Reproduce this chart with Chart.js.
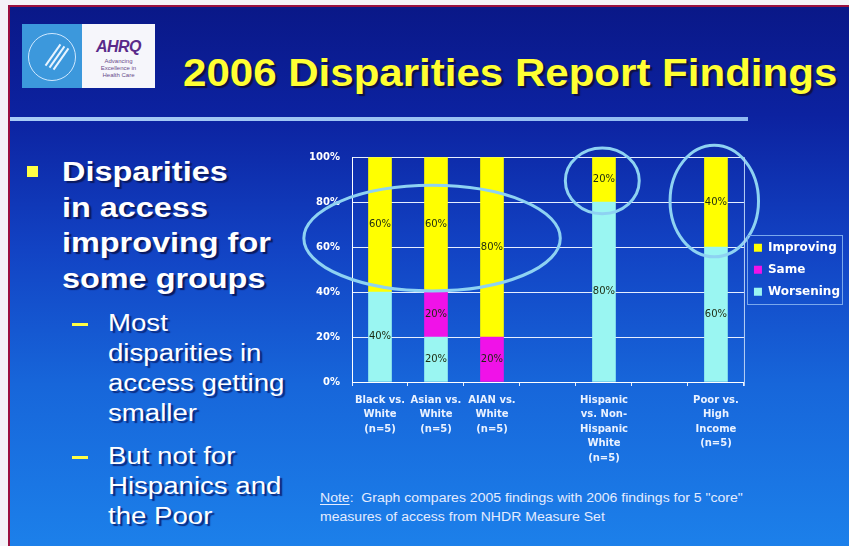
<!DOCTYPE html>
<html>
<head>
<meta charset="utf-8">
<script src="https://cdn.jsdelivr.net/npm/chart.js@4.4.1/dist/chart.umd.min.js"></script>
<style>
  html, body { margin: 0; padding: 0; }
  body { width: 849px; height: 546px; background: #f4f2f8; position: relative; overflow: hidden; font-family: "Liberation Sans", Arial, sans-serif; }
  .slide { position: absolute; left: 8px; top: 5px; width: 841px; height: 541px;
    border-left: 2px solid #9a1040; border-top: 2px solid #9a1040; box-sizing: border-box;
    background: linear-gradient(180deg, #0a1888 0%, #0c22a0 20%, #1243c4 45%, #1766da 70%, #1c80ea 100%); }
  .logo-l { position: absolute; left: 22px; top: 24px; width: 60px; height: 64px; background: #3c98dc; overflow: hidden; }
  .logo-l .ring { position: absolute; left: 6px; top: 9px; width: 46px; height: 46px; border: 1px solid #cfe8ff; border-radius: 50%; }
  .logo-l .wing { position: absolute; width: 26px; height: 2px; background: #e8f4ff; transform: rotate(-55deg); }
  .logo-r { position: absolute; left: 82px; top: 24px; width: 73px; height: 64px; background: #f6f6fb; text-align: center; }
  .logo-r .ahrq { font: italic bold 16px "Liberation Sans", Arial, sans-serif; color: #5a2a8a; margin-top: 14px; letter-spacing: -0.5px; }
  .logo-r .tag { font: 6px "Liberation Sans", Arial, sans-serif; color: #6a4a8a; line-height: 7px; margin-top: 2px; }
  .title { position: absolute; left: 183px; top: 52px; font: bold 38px "Liberation Sans", Arial, sans-serif;
    color: #ffff33; text-shadow: 2px 2px 1px #101040; white-space: nowrap; transform-origin: 0 0; }
  .rule { position: absolute; left: 10px; top: 117px; width: 738px; height: 4px; background: linear-gradient(90deg, #a8ccf6, #8fbaf2); }
  .bul { position: absolute; left: 27px; top: 166px; width: 11px; height: 11px; background: #ffff44; }
  .main { position: absolute; left: 62px; top: 155px; font: bold 27px "Liberation Sans", Arial, sans-serif; color: #ffffff;
    line-height: 35.5px; text-shadow: 2px 2px 1px #0a1a60; transform: scaleX(1.2); transform-origin: 0 0; white-space: nowrap; }
  .dash { position: absolute; left: 72px; width: 16px; height: 3px; background: #ffff44; }
  .sub { position: absolute; left: 108px; font: 23px "Liberation Sans", Arial, sans-serif; color: #ffffff;
    line-height: 30px; text-shadow: 2px 2px 1px #0a2a80; transform: scaleX(1.2); transform-origin: 0 0; white-space: nowrap; }
  .note { position: absolute; left: 320px; top: 489px; font: 12px "Liberation Sans", Arial, sans-serif; color: #e4ecff; line-height: 19px;
    transform: scaleX(1.17); transform-origin: 0 0; white-space: nowrap; }
  .note u { text-underline-offset: 2px; }
  #wrap { position: absolute; left: 295px; top: 138px; width: 559px; height: 332px; }
</style>
</head>
<body>
<div class="slide"></div>
<div class="logo-l"><div class="ring"></div>
  <div class="wing" style="left:18px;top:30px"></div>
  <div class="wing" style="left:22px;top:32px"></div>
  <div class="wing" style="left:26px;top:34px"></div>
</div>
<div class="logo-r"><div class="ahrq">AHRQ</div><div class="tag">Advancing<br>Excellence in<br>Health Care</div></div>
<div class="title" id="title">2006 Disparities Report Findings</div>
<div class="rule"></div>
<div class="bul"></div>
<div class="main">Disparities<br>in access<br>improving for<br>some groups</div>
<div class="dash" style="top:323px"></div>
<div class="sub" style="top:308px">Most<br>disparities in<br>access getting<br>smaller</div>
<div class="dash" style="top:456px"></div>
<div class="sub" style="top:441px">But not for<br>Hispanics and<br>the Poor</div>
<div class="note"><u>Note</u>:&nbsp; Graph compares 2005 findings with 2006 findings for 5 "core"<br>measures of access from NHDR Measure Set</div>
<div id="wrap"><canvas id="chart"></canvas></div>
<script>
// groups compared (blank slots leave gaps between the groups)
const groups = [
  ['Black vs.', 'White', '(n=5)'],
  ['Asian vs.', 'White', '(n=5)'],
  ['AIAN vs.', 'White', '(n=5)'],
  '',
  ['Hispanic', 'vs. Non-', 'Hispanic', 'White', '(n=5)'],
  '',
  ['Poor vs.', 'High', 'Income', '(n=5)']
];
const worsening = [40, 20, null, null, 80, null, 60];
const same      = [null, 20, 20, null, null, null, null];
const improving = [60, 60, 80, null, 20, null, 40];
const yTicks = [0, 20, 40, 60, 80, 100];

// circled areas: center (group index, percent) and radii (groups, percent)
const circles = [
  { x: 0.93, y: 64, rx: 2.29, ry: 23.5 },
  { x: 3.97, y: 89.5, rx: 0.66, ry: 14.6 },
  { x: 5.97, y: 80.5, rx: 0.79, ry: 24.8 }
];

// squeeze the title into its band
const title = document.getElementById('title');
title.style.transform = 'scaleX(' + (654 / title.offsetWidth) + ')';

const labelPlugin = {
  id: 'segLabels',
  afterDatasetsDraw(chart) {
    const ctx = chart.ctx;
    ctx.save();
    ctx.font = '10px "DejaVu Sans", sans-serif';
    ctx.fillStyle = '#1c2a10';
    ctx.textAlign = 'center';
    ctx.textBaseline = 'middle';
    chart.data.datasets.forEach((ds, i) => {
      chart.getDatasetMeta(i).data.forEach((bar, j) => {
        const v = ds.data[j];
        if (!v) return;
        ctx.fillText(v + '%', bar.x, (bar.y + bar.base) / 2);
      });
    });
    ctx.restore();
  }
};

const circlePlugin = {
  id: 'circles',
  afterDraw(chart) {
    const ctx = chart.ctx;
    const xs = chart.scales.x, ys = chart.scales.y;
    const step = xs.getPixelForValue(1) - xs.getPixelForValue(0);
    const unit = ys.getPixelForValue(0) - ys.getPixelForValue(1);
    ctx.save();
    ctx.strokeStyle = '#8ed2f2';
    ctx.lineWidth = 3;
    circles.forEach(c => {
      const cx = xs.getPixelForValue(0) + c.x * step;
      const cy = ys.getPixelForValue(c.y);
      ctx.beginPath();
      ctx.ellipse(cx, cy, c.rx * step, c.ry * unit, 0, 0, Math.PI * 2);
      ctx.stroke();
    });
    // right edge of the plot and frame around the legend
    const a = chart.chartArea;
    ctx.strokeStyle = '#b8d0f4';
    ctx.lineWidth = 1;
    ctx.beginPath();
    ctx.moveTo(a.right + 0.5, a.top);
    ctx.lineTo(a.right + 0.5, a.bottom + 4);
    ctx.stroke();
    const lg = chart.legend;
    if (lg && lg.legendHitBoxes.length) {
      const hb = lg.legendHitBoxes;
      const l = Math.min(...hb.map(b => b.left)) - 7;
      const t = Math.min(...hb.map(b => b.top)) - 7;
      const r = Math.max(...hb.map(b => b.left + b.width)) + 2;
      const btm = Math.max(...hb.map(b => b.top + b.height)) + 6;
      ctx.strokeStyle = '#7aa8ec';
      ctx.strokeRect(Math.round(l) + 0.5, Math.round(t) + 0.5, Math.round(r - l), Math.round(btm - t));
    }
    ctx.restore();
  }
};

const tickFont = { family: '"DejaVu Sans", sans-serif', size: 10, weight: 'bold', lineHeight: 1.45 };

new Chart(document.getElementById('chart'), {
  type: 'bar',
  data: {
    labels: groups,
    datasets: [
      { label: 'Worsening', data: worsening, backgroundColor: '#9af6f2' },
      { label: 'Same', data: same, backgroundColor: '#f012e8' },
      { label: 'Improving', data: improving, backgroundColor: '#ffff00' }
    ]
  },
  options: {
    responsive: true,
    maintainAspectRatio: false,
    animation: false,
    layout: { padding: { top: 5, right: 4 } },
    datasets: { bar: { barThickness: 23 } },
    plugins: {
      legend: {
        position: 'right',
        fullSize: false,
        reverse: true,
        labels: {
          color: '#ffffff',
          font: { family: '"DejaVu Sans", sans-serif', size: 12, weight: 'bold' },
          boxWidth: 8,
          boxHeight: 8,
          padding: 10
        }
      },
      tooltip: { enabled: false }
    },
    scales: {
      x: {
        stacked: true,
        afterFit(s) { s.height = 88; },
        grid: { drawOnChartArea: false, color: '#e8f0ff', tickLength: 4, offset: true },
        border: { color: '#ffffff' },
        ticks: { color: '#eaf2ff', font: tickFont, maxRotation: 0, autoSkip: false, padding: 7 }
      },
      y: {
        stacked: true,
        min: 0,
        max: 100,
        afterFit(s) { s.width = 57; },
        afterBuildTicks(s) { s.ticks = yTicks.map(v => ({ value: v })); },
        grid: { color: '#e6eeff', drawTicks: false },
        border: { color: '#ffffff' },
        ticks: { color: '#ffffff', font: tickFont, padding: 12, callback: v => v + '%' }
      }
    }
  },
  plugins: [labelPlugin, circlePlugin]
});
</script>
</body>
</html>
